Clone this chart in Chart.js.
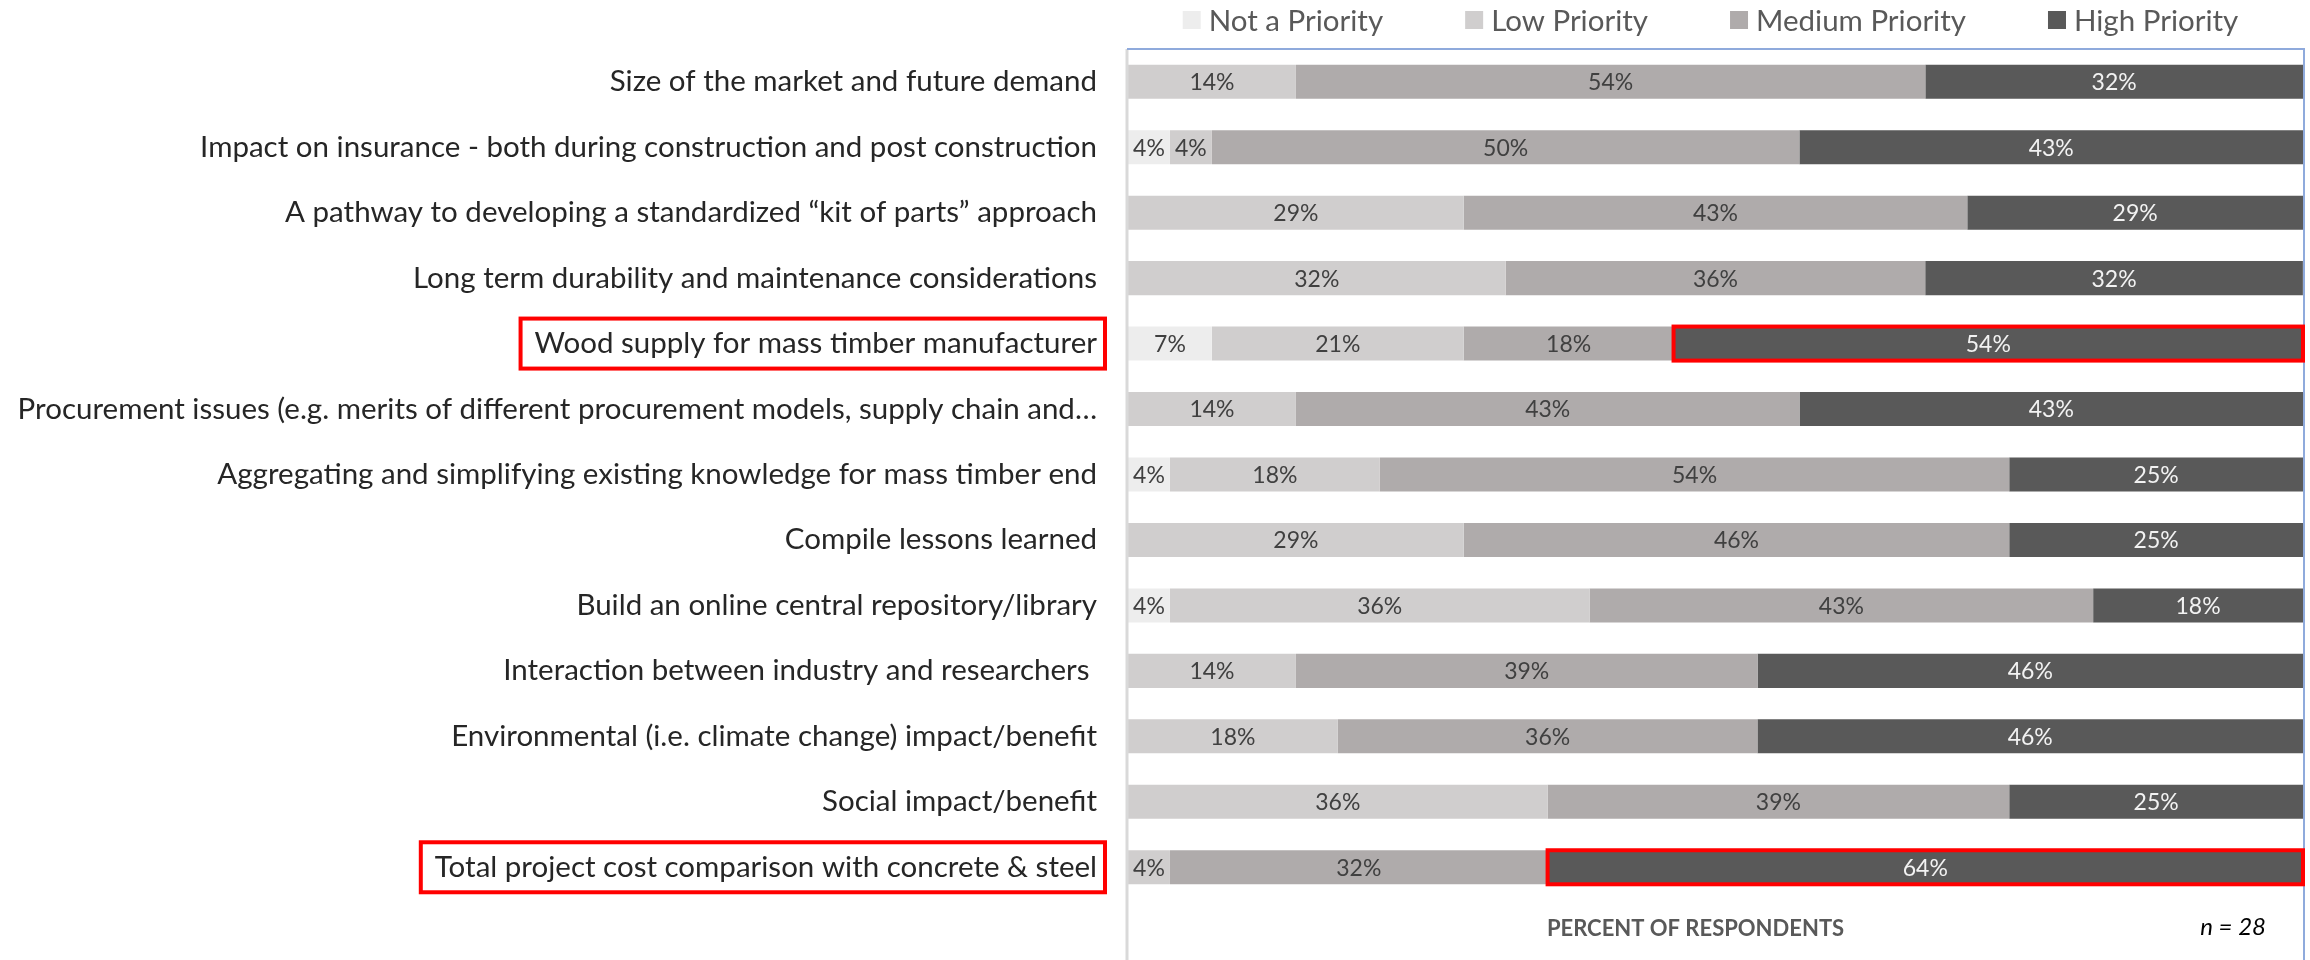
<!DOCTYPE html>
<html lang="en">
<head>
    <meta charset="UTF-8">
    <title>Priorities</title>
    <script src="https://cdn.jsdelivr.net/npm/chart.js"></script>
    <style>
        html, body { margin: 0; padding: 0; background: #ffffff; }
        #wrap { width: 2310px; height: 960px; position: relative; }
    </style>
</head>
<body>
    <div id="wrap">
        <canvas id="priorityChart"></canvas>
    </div>

    <script>
        // categories, top to bottom
        var categories = [
            'Size of the market and future demand',
            'Impact on insurance - both during construction and post construction',
            'A pathway to developing a standardized \u201ckit of parts\u201d approach',
            'Long term durability and maintenance considerations',
            'Wood supply for mass timber manufacturer',
            'Procurement issues (e.g. merits of different procurement models, supply chain and\u2026',
            'Aggregating and simplifying existing knowledge for mass timber end',
            'Compile lessons learned',
            'Build an online central repository/library',
            'Interaction between industry and researchers ',
            'Environmental (i.e. climate change) impact/benefit',
            'Social impact/benefit',
            'Total project cost comparison with concrete & steel'
        ];

        var seriesNames = ['Not a Priority', 'Low Priority', 'Medium Priority', 'High Priority'];

        // percent of respondents (n = 28)
        var notPriority    = [0, 3.57, 0, 0, 7.14, 0, 3.57, 0, 3.57, 0, 0, 0, 0];
        var lowPriority    = [14.29, 3.57, 28.57, 32.14, 21.43, 14.29, 17.86, 28.57, 35.71, 14.29, 17.86, 35.71, 3.57];
        var mediumPriority = [53.57, 50, 42.86, 35.71, 17.86, 42.86, 53.57, 46.43, 42.86, 39.29, 35.71, 39.29, 32.14];
        var highPriority   = [32.14, 42.86, 28.57, 32.14, 53.57, 42.86, 25, 25, 17.86, 46.43, 46.43, 25, 64.29];

        var highlightRows = [4, 12];

        var colors = ['#ededed', '#d0cece', '#afabab', '#595959'];
        var labelColors = ['#404040', '#404040', '#404040', '#f2f2f2'];
        var fontFamily = 'Lato, "Open Sans", sans-serif';
        var labelSize = 29.5;

        var seriesData = [notPriority, lowPriority, mediumPriority, highPriority];
        var datasets = seriesData.map(function (d, i) {
            return {
                label: seriesNames[i],
                data: d,
                backgroundColor: colors[i],
                borderWidth: 0,
                barPercentage: 1,
                categoryPercentage: 0.52
            };
        });

        // percentages inside the segments
        var segmentLabels = {
            id: 'segmentLabels',
            afterDatasetsDraw: function (chart) {
                var ctx = chart.ctx;
                ctx.save();
                ctx.font = '23px ' + fontFamily;
                ctx.textAlign = 'center';
                ctx.textBaseline = 'middle';
                chart.data.datasets.forEach(function (ds, di) {
                    var meta = chart.getDatasetMeta(di);
                    meta.data.forEach(function (bar, i) {
                        var v = ds.data[i];
                        if (!v) return;
                        ctx.fillStyle = labelColors[di];
                        ctx.fillText(Math.round(v) + '%', (bar.x + bar.base) / 2, bar.y + 1);
                    });
                });
                ctx.restore();
            }
        };

        // frame, legend, red highlight boxes, footer texts
        var decorations = {
            id: 'decorations',
            afterDraw: function (chart) {
                var ctx = chart.ctx;
                var area = chart.chartArea;
                var yScale = chart.scales.y;
                ctx.save();

                // plot frame
                ctx.strokeStyle = '#d9d9d9';
                ctx.lineWidth = 3;
                ctx.beginPath();
                ctx.moveTo(area.left - 1, area.top);
                ctx.lineTo(area.left - 1, chart.height);
                ctx.stroke();
                ctx.strokeStyle = '#8faadc';
                ctx.lineWidth = 2;
                ctx.beginPath();
                ctx.moveTo(area.left - 1, area.top);
                ctx.lineTo(area.right + 1, area.top);
                ctx.lineTo(area.right + 1, chart.height);
                ctx.stroke();

                // legend
                ctx.font = labelSize + 'px ' + fontFamily;
                ctx.textBaseline = 'middle';
                ctx.textAlign = 'left';
                var box = 18, gap = 8, itemGap = 82;
                var total = 0;
                seriesNames.forEach(function (n, i) {
                    total += box + gap + ctx.measureText(n).width;
                    if (i > 0) total += itemGap;
                });
                var lx = (area.left + area.right) / 2 - 5 - total / 2;
                var ly = 20;
                seriesNames.forEach(function (n, i) {
                    ctx.fillStyle = colors[i];
                    ctx.fillRect(lx, ly - box / 2, box, box);
                    ctx.fillStyle = '#595959';
                    ctx.fillText(n, lx + box + gap, ly + 1);
                    lx += box + gap + ctx.measureText(n).width + itemGap;
                });

                // red boxes: around the label and the high-priority bar
                ctx.strokeStyle = '#ff0000';
                ctx.lineWidth = 4;
                var highMeta = chart.getDatasetMeta(3);
                ctx.font = labelSize + 'px ' + fontFamily;
                highlightRows.forEach(function (r) {
                    var y = yScale.getPixelForTick(r);
                    var w = ctx.measureText(categories[r]).width;
                    var right = area.left - yScale.options.ticks.padding;
                    ctx.strokeRect(right - w - 14, y - 25, w + 22, 50);
                    var bar = highMeta.data[r];
                    var h = bar.height;
                    ctx.strokeRect(bar.base, bar.y - h / 2, bar.x - bar.base, h);
                });

                // axis title and sample size
                ctx.fillStyle = '#595959';
                ctx.font = 'bold 22px ' + fontFamily;
                ctx.textAlign = 'center';
                ctx.fillText('PERCENT OF RESPONDENTS', (area.left + area.right) / 2 - 20, 929);
                ctx.fillStyle = '#000000';
                ctx.font = 'italic 24px ' + fontFamily;
                ctx.textAlign = 'right';
                ctx.fillText('n = 28', area.right - 37, 927);

                ctx.restore();
            }
        };

        var ctx = document.getElementById('priorityChart').getContext('2d');
        window.myChart = new Chart(ctx, {
            type: 'bar',
            data: {
                labels: categories,
                datasets: datasets
            },
            options: {
                indexAxis: 'y',
                responsive: true,
                maintainAspectRatio: false,
                animation: false,
                layout: {
                    padding: { left: 0, right: 7, top: 49, bottom: 60 }
                },
                scales: {
                    x: {
                        stacked: true,
                        min: 0,
                        max: 100,
                        display: false
                    },
                    y: {
                        stacked: true,
                        grid: { display: false, drawTicks: false, tickLength: 0 },
                        border: { display: false },
                        ticks: {
                            padding: 31,
                            color: '#262626',
                            font: { family: fontFamily, size: labelSize },
                            autoSkip: false
                        },
                        afterFit: function (scale) {
                            scale.width = 1128;
                        }
                    }
                },
                plugins: {
                    legend: { display: false },
                    tooltip: { enabled: false }
                }
            },
            plugins: [segmentLabels, decorations]
        });
    </script>
</body>
</html>
